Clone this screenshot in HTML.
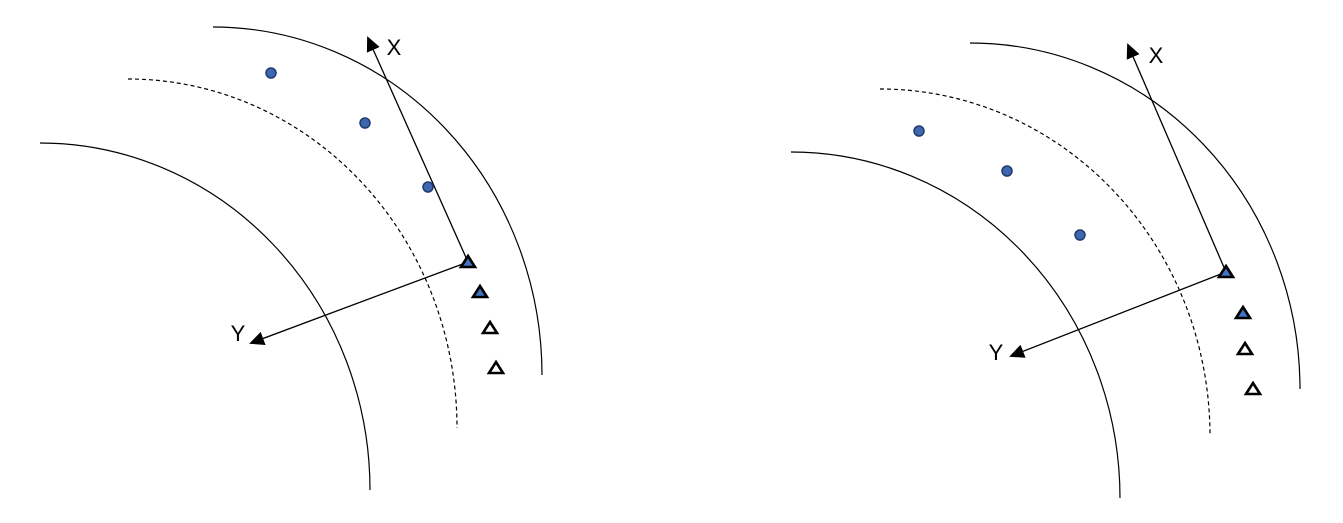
<!DOCTYPE html>
<html><head><meta charset="utf-8"><style>
html,body{margin:0;padding:0;background:#fff;}
svg{display:block;font-family:"Liberation Sans",sans-serif;}
</style></head><body>
<svg width="1343" height="523" viewBox="0 0 1343 523">
<defs><marker id="ah" markerWidth="16" markerHeight="14" refX="13" refY="7" orient="auto" markerUnits="userSpaceOnUse"><path d="M0,0 L15,7 L0,14 z" fill="#000"/></marker></defs>
<g id="left"></g>
<g id="right"></g>
</svg>
<script>
const NS='http://www.w3.org/2000/svg';
const panels=[
 {id:'left',arcs:[[40,143,370,490,0],[128,79,457,428,1],[213,27,542,375,0]],
  origin:[468,262],xTip:[368,38],xLab:[394,55],yTip:[251,343],yLab:[238,341],
  dots:[[271,73],[365,123],[428,187]],
  tris:[[468,262,1],[480,292,1],[490,328,0],[496,368,0]]},
 {id:'right',arcs:[[791,152,1120,498,0],[880,89,1210,436,1],[970,43,1300,389,0]],
  origin:[1226,272],xTip:[1128,45],xLab:[1156,63],yTip:[1011,356],yLab:[996,360],
  dots:[[919,131],[1007,171],[1080,235]],
  tris:[[1226,272,1],[1243,313,1],[1245,349,0],[1253,389,0]]}
];
function mk(t,a,p){const e=document.createElementNS(NS,t);for(const k in a)e.setAttribute(k,a[k]);p.appendChild(e);return e;}
panels.forEach(P=>{
 const g=document.getElementById(P.id);
 P.arcs.forEach((a,i)=>{
  const e=mk('path',{d:`M${a[0]},${a[1]} A${a[2]-a[0]},${a[3]-a[1]} 0 0 1 ${a[2]},${a[3]}`,fill:'none',stroke:'#000','stroke-width':1.2,'stroke-dasharray':a[4]?'4,3':'none'},g);
  
  
 });
 const xl=mk('line',{x1:P.origin[0],y1:P.origin[1],x2:P.xTip[0],y2:P.xTip[1],stroke:'#000','stroke-width':1.3,'marker-end':'url(#ah)'},g);
 
 
 const yl=mk('line',{x1:P.origin[0],y1:P.origin[1],x2:P.yTip[0],y2:P.yTip[1],stroke:'#000','stroke-width':1.3,'marker-end':'url(#ah)'},g);
 
 
 const xt=mk('text',{x:P.xLab[0],y:P.xLab[1],'font-size':22,'text-anchor':'middle'},g);xt.textContent='X';
 
 
 const yt=mk('text',{x:P.yLab[0],y:P.yLab[1],'font-size':22,'text-anchor':'middle'},g);yt.textContent='Y';
 
 
 P.dots.forEach(d=>{
  const c=mk('circle',{cx:d[0],cy:d[1],r:5,fill:'#3f67b0',stroke:'#1f3a6e','stroke-width':1.5},g);
  
  
 });
 P.tris.forEach(t=>{
  const [x,y,f]=t;
  const p=mk('polygon',{points:`${x},${y-6} ${x+7},${y+5} ${x-7},${y+5}`,fill:f?'#4472c4':'#fff',stroke:'#000','stroke-width':2.6,'stroke-linejoin':'miter'},g);
  
  
 });
});
</script>
</body></html>
